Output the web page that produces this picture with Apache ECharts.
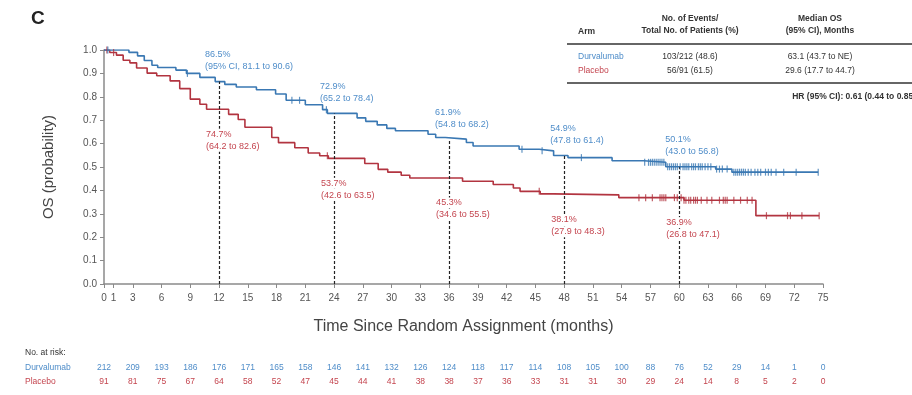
<!DOCTYPE html>
<html>
<head>
<meta charset="utf-8">
<script src="https://cdn.jsdelivr.net/npm/echarts@6/dist/echarts.min.js"></script>
<style>
  html, body { margin: 0; padding: 0; background: #fff; }
  #chart { width: 912px; height: 395px; }
</style>
</head>
<body>
<div id="chart"></div>
<script>
// tick labels
const xTicks = [0, 1, 3, 6, 9, 12, 15, 18, 21, 24, 27, 30, 33, 36, 39, 42, 45, 48, 51, 54, 57, 60, 63, 66, 69, 72, 75];
const riskTimes = [0, 3, 6, 9, 12, 15, 18, 21, 24, 27, 30, 33, 36, 39, 42, 45, 48, 51, 54, 57, 60, 63, 66, 69, 72, 75];

// Kaplan-Meier steps: time of the step, survival after it
const durTimes = [0, 2.6, 3.5, 4.2, 5.0, 5.6, 7.5, 8.6, 10.0, 11.6, 12.6, 13.8, 15.9, 17.9, 19.0, 21.0, 22.8, 23.3, 26.4, 27.3, 28.5, 29.5, 30.4, 33.8, 34.6, 35.6, 37.8, 38.5, 43.3, 45.4, 46.9, 48.4, 53.0, 56.3, 58.6, 63.8, 65.5, 74.5];
const durSurv = [1.0, 0.99, 0.975, 0.955, 0.935, 0.925, 0.914, 0.90, 0.883, 0.865, 0.853, 0.842, 0.83, 0.812, 0.785, 0.766, 0.745, 0.729, 0.71, 0.695, 0.68, 0.665, 0.655, 0.64, 0.626, 0.619, 0.605, 0.59, 0.576, 0.569, 0.549, 0.54, 0.527, 0.52, 0.501, 0.491, 0.478, 0.478];
const plaTimes = [0, 0.6, 1.3, 2.0, 2.7, 3.4, 4.5, 5.5, 6.9, 7.9, 9.0, 10.0, 10.7, 13.0, 14.0, 14.7, 17.5, 18.2, 19.9, 21.3, 22.5, 23.4, 27.2, 28.6, 29.6, 31.0, 31.9, 37.4, 40.6, 42.7, 43.4, 45.5, 46.9, 53.7, 60.5, 68.0, 74.6];
const plaSurv = [1.0, 0.989, 0.978, 0.956, 0.945, 0.923, 0.901, 0.89, 0.868, 0.835, 0.79, 0.768, 0.747, 0.725, 0.703, 0.67, 0.626, 0.604, 0.582, 0.56, 0.548, 0.537, 0.515, 0.49, 0.478, 0.465, 0.453, 0.439, 0.425, 0.41, 0.396, 0.385, 0.381, 0.369, 0.358, 0.292, 0.292];

// censoring times
const durCensor = [0.4, 8.7, 19.6, 20.4, 23.2, 43.6, 45.7, 49.8, 56.4, 56.8, 57.0, 57.2, 57.4, 57.6, 57.8, 58.0, 58.2, 58.4, 58.8, 59.0, 59.2, 59.4, 59.6, 59.8, 60.1, 60.4, 60.6, 60.8, 61.0, 61.3, 61.5, 61.7, 62.0, 62.2, 62.4, 62.7, 63.0, 63.3, 63.9, 64.2, 64.5, 65.0, 65.7, 65.9, 66.1, 66.3, 66.5, 66.7, 66.9, 67.2, 67.5, 67.9, 68.2, 68.5, 69.0, 69.3, 69.6, 70.1, 70.9, 72.2, 74.5];
const plaCensor = [0.3, 1.0, 23.3, 45.4, 55.8, 56.5, 57.2, 58.0, 58.2, 58.4, 58.6, 59.5, 59.8, 60.2, 60.5, 60.7, 61.0, 61.2, 61.5, 61.7, 61.9, 62.3, 62.9, 63.4, 64.2, 64.6, 64.8, 65.0, 65.7, 66.4, 67.1, 67.6, 69.1, 71.3, 71.6, 72.8, 74.6];

// landmark estimates
const landTimes = [12, 24, 36, 48, 60];
const durLand = [0.865, 0.729, 0.619, 0.549, 0.501];
const plaLand = [0.747, 0.537, 0.453, 0.381, 0.369];
const durPct = ['86.5%', '72.9%', '61.9%', '54.9%', '50.1%'];
const durCI = ['(95% CI, 81.1 to 90.6)', '(65.2 to 78.4)', '(54.8 to 68.2)', '(47.8 to 61.4)', '(43.0 to 56.8)'];
const plaPct = ['74.7%', '53.7%', '45.3%', '38.1%', '36.9%'];
const plaCI = ['(64.2 to 82.6)', '(42.6 to 63.5)', '(34.6 to 55.5)', '(27.9 to 48.3)', '(26.8 to 47.1)'];

// numbers at risk
const durRisk = [212, 209, 193, 186, 176, 171, 165, 158, 146, 141, 132, 126, 124, 118, 117, 114, 108, 105, 100, 88, 76, 52, 29, 14, 1, 0];
const plaRisk = [91, 81, 75, 67, 64, 58, 52, 47, 45, 44, 41, 38, 38, 37, 36, 33, 31, 31, 30, 29, 24, 14, 8, 5, 2, 0];

const BLUE = '#3a78b3';
const RED = '#b23440';
const BLUE_TXT = '#4f8dc9';
const RED_TXT = '#c4454f';
const FONT = 'Liberation Sans, Arial, sans-serif';

function survAt(times, surv, t) {
    let v = surv[0];
    for (let i = 0; i < times.length; i++) {
        if (times[i] <= t) v = surv[i];
    }
    return v;
}

const chart = echarts.init(document.getElementById('chart'));

chart.setOption({
    animation: false,
    grid: {left: 104, right: 89, top: 50, bottom: 111, outerBoundsMode: 'none'},
    xAxis: {
        type: 'value',
        min: 0,
        max: 75,
        name: 'Time Since Random Assignment (months)',
        nameLocation: 'middle',
        nameGap: 35,
        nameTextStyle: {fontSize: 16, color: '#444', fontFamily: FONT},
        axisLine: {lineStyle: {color: '#8a8a8a', width: 1.5}},
        axisTick: {customValues: xTicks, length: 4, lineStyle: {color: '#8a8a8a'}},
        axisLabel: {customValues: xTicks, fontSize: 10, color: '#555', fontFamily: FONT, margin: 9},
        splitLine: {show: false}
    },
    yAxis: {
        type: 'value',
        min: 0,
        max: 1,
        interval: 0.1,
        name: 'OS (probability)',
        nameLocation: 'middle',
        nameGap: 48,
        nameTextStyle: {fontSize: 15, color: '#444', fontFamily: FONT},
        axisLine: {show: true, lineStyle: {color: '#8a8a8a', width: 1.5}},
        axisTick: {show: true, length: 4, lineStyle: {color: '#8a8a8a'}},
        axisLabel: {fontSize: 10, color: '#555', fontFamily: FONT, margin: 7,
            formatter: v => v.toFixed(1)},
        splitLine: {show: false}
    },
    series: [
        {
            name: 'Placebo',
            type: 'line',
            step: 'end',
            symbol: 'none',
            lineStyle: {color: RED, width: 1.6},
            data: plaTimes.map((t, i) => [t, plaSurv[i]]),
            z: 3
        },
        {
            name: 'Durvalumab',
            type: 'line',
            step: 'end',
            symbol: 'none',
            lineStyle: {color: BLUE, width: 1.6},
            data: durTimes.map((t, i) => [t, durSurv[i]]),
            z: 4,
            markLine: {
                silent: true,
                symbol: 'none',
                label: {show: false},
                lineStyle: {color: '#222', type: [3, 2], width: 1.2},
                data: landTimes.map((t, i) => [{coord: [t, 0]}, {coord: [t, durLand[i]]}])
            }
        },
        {
            type: 'scatter',
            symbol: 'rect',
            symbolSize: [1.2, 7],
            itemStyle: {color: RED},
            data: plaCensor.map(t => [t, survAt(plaTimes, plaSurv, t)]),
            z: 5
        },
        {
            type: 'scatter',
            symbol: 'rect',
            symbolSize: [1.2, 7],
            itemStyle: {color: BLUE},
            data: durCensor.map(t => [t, survAt(durTimes, durSurv, t)]),
            z: 6
        }
    ]
});

// annotations, table and risk rows
const g = [];
function txt(x, y, s, opt) {
    g.push({
        type: 'text', x: x, y: y, silent: true, z: 100,
        style: Object.assign({text: s, fontSize: 9, fontFamily: FONT, fill: '#333',
            align: 'left', verticalAlign: 'middle'}, opt || {})
    });
}

txt(31, 19, 'C', {fontSize: 19, fontWeight: 'bold', fill: '#222'});

landTimes.forEach((t, i) => {
    const pb = chart.convertToPixel({gridIndex: 0}, [t, durLand[i]]);
    const pr = chart.convertToPixel({gridIndex: 0}, [t, plaLand[i]]);
    txt(pb[0] - 14, pb[1] - 27, durPct[i], {fill: BLUE_TXT});
    txt(pb[0] - 14, pb[1] - 15, durCI[i], {fill: BLUE_TXT});
    txt(pr[0] - 14, pr[1] + 25, plaPct[i], {fill: RED_TXT, backgroundColor: '#fff', padding: [1, 1]});
    txt(pr[0] - 14, pr[1] + 37, plaCI[i], {fill: RED_TXT, backgroundColor: '#fff', padding: [1, 1]});
});

// summary table
txt(578, 32, 'Arm', {fontSize: 8.5, fontWeight: 'bold', fill: '#333'});
txt(690, 19, 'No. of Events/', {fontSize: 8.5, fontWeight: 'bold', align: 'center'});
txt(690, 31, 'Total No. of Patients (%)', {fontSize: 8.5, fontWeight: 'bold', align: 'center'});
txt(820, 19, 'Median OS', {fontSize: 8.5, fontWeight: 'bold', align: 'center'});
txt(820, 31, '(95% CI), Months', {fontSize: 8.5, fontWeight: 'bold', align: 'center'});
g.push({type: 'line', silent: true, shape: {x1: 567, y1: 44, x2: 912, y2: 44}, style: {stroke: '#333', lineWidth: 1.5}});
txt(578, 57, 'Durvalumab', {fontSize: 8.5, fill: BLUE_TXT});
txt(690, 57, '103/212 (48.6)', {fontSize: 8.5, align: 'center'});
txt(820, 57, '63.1 (43.7 to NE)', {fontSize: 8.5, align: 'center'});
txt(578, 71, 'Placebo', {fontSize: 8.5, fill: RED_TXT});
txt(690, 71, '56/91 (61.5)', {fontSize: 8.5, align: 'center'});
txt(820, 71, '29.6 (17.7 to 44.7)', {fontSize: 8.5, align: 'center'});
g.push({type: 'line', silent: true, shape: {x1: 567, y1: 83, x2: 912, y2: 83}, style: {stroke: '#333', lineWidth: 1.5}});
txt(916, 97, 'HR (95% CI): 0.61 (0.44 to 0.85)', {fontSize: 8.5, fontWeight: 'bold', align: 'right'});

// numbers at risk
txt(25, 353, 'No. at risk:', {fontSize: 8.5, fill: '#333'});
txt(25, 368, 'Durvalumab', {fontSize: 8.5, fill: BLUE_TXT});
txt(25, 382, 'Placebo', {fontSize: 8.5, fill: RED_TXT});
riskTimes.forEach((t, i) => {
    const x = chart.convertToPixel({xAxisIndex: 0}, t);
    txt(x, 368, String(durRisk[i]), {fontSize: 8.5, fill: BLUE_TXT, align: 'center'});
    txt(x, 382, String(plaRisk[i]), {fontSize: 8.5, fill: RED_TXT, align: 'center'});
});

chart.setOption({graphic: g});
</script>
</body>
</html>
